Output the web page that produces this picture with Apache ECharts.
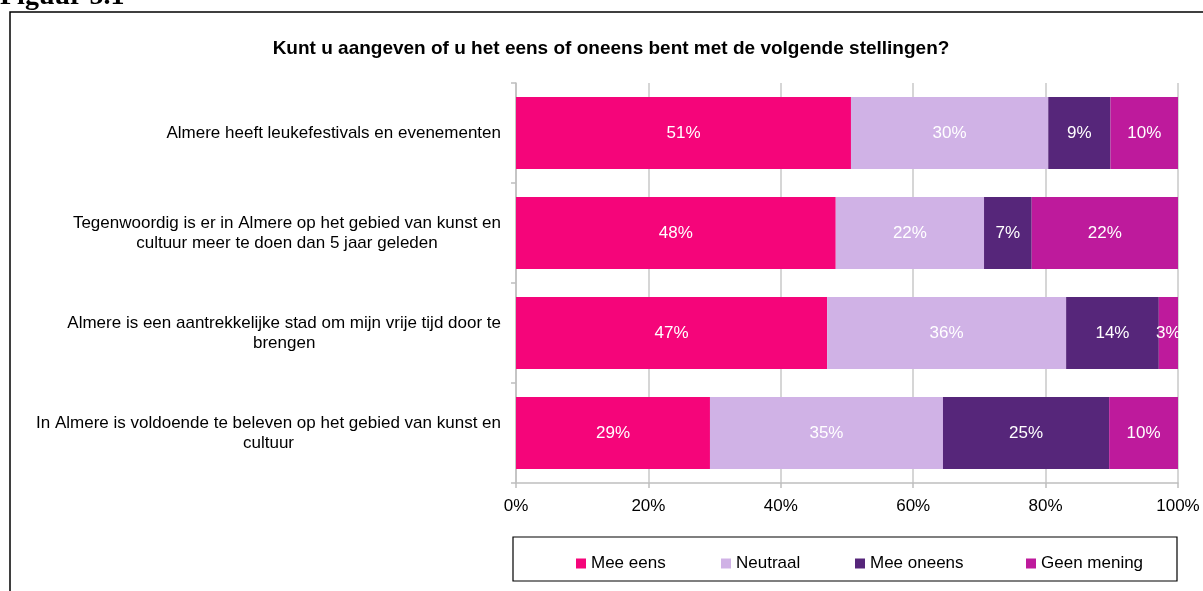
<!DOCTYPE html>
<html>
<head>
<meta charset="utf-8">
<script src="https://cdn.jsdelivr.net/npm/echarts@6/dist/echarts.min.js"></script>
<style>
  html, body { margin: 0; padding: 0; background: #fff; }
  #chart { width: 1203px; height: 591px; }
</style>
</head>
<body>
<div id="chart"></div>
<script>
// categories, top to bottom
const categories = [
  "Almere heeft leukefestivals en evenementen",
  "Tegenwoordig is er in Almere op het gebied van kunst en\ncultuur meer te doen dan 5 jaar geleden",
  "Almere is een aantrekkelijke stad om mijn vrije tijd door te\nbrengen",
  "In Almere is voldoende te beleven op het gebied van kunst en\ncultuur"
];
const meeEens = [50.6, 48.3, 47.0, 29.3];
const neutraal = [29.8, 22.4, 36.1, 35.2];
const meeOneens = [9.4, 7.2, 14.0, 25.1];
const geenMening = [10.2, 22.1, 2.9, 10.4];
const seriesNames = ["Mee eens", "Neutraal", "Mee oneens", "Geen mening"];
const colors = ["#f5057a", "#d0b2e6", "#56267a", "#be1a9c"];
const xTicks = [0, 20, 40, 60, 80, 100];

const font = "'Liberation Sans', Arial, sans-serif";
const legendLeft = [571, 716, 850, 1021];

const chart = echarts.init(document.getElementById("chart"));

function barSeries(name, data, color) {
  return {
    name: name,
    type: "bar",
    stack: "total",
    data: data,
    barCategoryGap: "28%",
    itemStyle: { color: color },
    label: {
      show: true,
      position: "inside",
      color: "#fff",
      fontFamily: font,
      fontSize: 17,
      formatter: (p) => Math.round(p.value) + "%",
    },
    emphasis: { disabled: true },
  };
}

chart.setOption({
  animation: false,
  color: colors,
  title: {
    text: "Kunt u aangeven of u het eens of oneens bent met de volgende stellingen?",
    left: 606,
    textAlign: "center",
    top: 34,
    textStyle: { fontFamily: font, fontSize: 19, fontWeight: "bold", color: "#000" },
  },
  graphic: [
    {
      type: "rect",
      shape: { x: 10, y: 12, width: 1400, height: 800 },
      style: { fill: null, stroke: "#000", lineWidth: 1.5 },
      silent: true,
    },
    {
      type: "text",
      x: 0,
      y: 11,
      style: {
        text: "Figuur 5.1",
        font: "bold 28px 'Liberation Serif', 'DejaVu Serif', serif",
        fill: "#000",
        textVerticalAlign: "bottom",
      },
    },
    {
      type: "rect",
      shape: { x: 513, y: 537, width: 664, height: 44 },
      style: { fill: null, stroke: "#000", lineWidth: 1.2 },
      silent: true,
    },
  ],
  // one legend per item so each sits where the reference puts it
  legend: seriesNames.map((name, i) => ({
    data: [name],
    left: legendLeft[i],
    top: 550,
    itemWidth: 10,
    itemHeight: 10,
    icon: "rect",
    textStyle: { fontFamily: font, fontSize: 17, color: "#000" },
    selectedMode: false,
  })),
  grid: { left: 516, right: 25, top: 83, bottom: 108, containLabel: false },
  xAxis: {
    type: "value",
    min: 0,
    max: 100,
    interval: 20,
    axisLine: { show: true, lineStyle: { color: "#bfbfbf", width: 1.5 } },
    axisTick: { show: true, length: 5, lineStyle: { color: "#bfbfbf", width: 1.5 } },
    splitLine: { show: true, lineStyle: { color: "#c8c8c8", width: 1.5 } },
    axisLabel: {
      color: "#000",
      fontFamily: font,
      fontSize: 17,
      margin: 15,
      formatter: (v) => (xTicks.includes(v) ? v + "%" : ""),
    },
  },
  yAxis: {
    type: "category",
    data: categories,
    inverse: true,
    axisLine: { show: true, lineStyle: { color: "#bfbfbf", width: 1.5 } },
    axisTick: { show: true, length: 5, lineStyle: { color: "#bfbfbf", width: 1.5 } },
    axisLabel: {
      margin: 15,
      align: "right",
      formatter: (v) => v.split("\n").map((s) => "{c|" + s + "}").join("\n"),
      rich: {
        c: { align: "center", fontFamily: font, fontSize: 17, color: "#000", lineHeight: 20 },
      },
    },
  },
  series: [
    barSeries(seriesNames[0], meeEens, colors[0]),
    barSeries(seriesNames[1], neutraal, colors[1]),
    barSeries(seriesNames[2], meeOneens, colors[2]),
    barSeries(seriesNames[3], geenMening, colors[3]),
  ],
});
</script>
</body>
</html>
